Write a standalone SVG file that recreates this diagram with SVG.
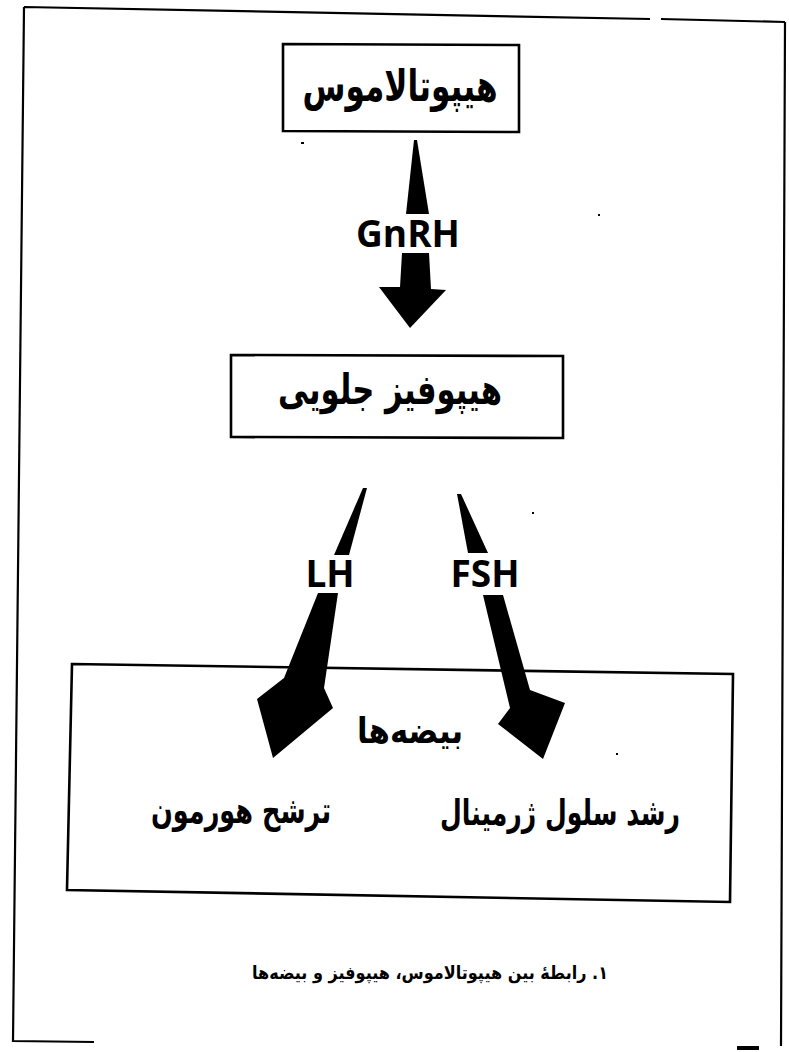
<svg xmlns="http://www.w3.org/2000/svg" width="789" height="1052" viewBox="0 0 789 1052">
  <style>
    .frame { fill: none; stroke: #000; stroke-width: 2.2; }
    .box { fill: none; stroke: #000; stroke-width: 2.6; stroke-linejoin: miter; }
    .fa { font-family: "DejaVu Sans", sans-serif; font-weight: bold; fill: #000; text-anchor: middle; direction: rtl; }
    .lbl { font-family: "Open Sans", "DejaVu Sans", sans-serif; font-weight: bold; fill: #000; text-anchor: middle; font-size: 37px; }
    .arrow { fill: #000; stroke: none; }
    .speck { fill: #000; }
  </style>

  <rect width="789" height="1052" fill="#fff"/>

  <!-- page frame around the figure -->
  <g id="page-frame">
    <path class="frame" d="M24,7 L650,19 M661,19 L785,22 M24,7 L13,1041 L94,1042 M785,22 L781,1046"/>
    <rect class="speck" x="737" y="1046" width="22" height="4"/>
    <rect class="speck" x="301" y="142" width="3" height="2"/>
    <rect class="speck" x="598" y="214" width="2" height="2"/>
    <rect class="speck" x="532" y="512" width="2" height="2"/>
    <rect class="speck" x="616" y="753" width="2" height="2"/>
  </g>

  <!-- hypothalamus -->
  <g id="hypothalamus">
    <polygon class="box" points="283,44 519,45 519,132 283,131"/>
    <text class="fa" x="400" y="101" font-size="44" textLength="195" lengthAdjust="spacingAndGlyphs">هیپوتالاموس</text>
  </g>

  <!-- anterior pituitary -->
  <g id="anterior-pituitary">
    <polygon class="box" points="231,355 563,356 563,438 231,437"/>
    <text class="fa" x="390" y="404" font-size="42" textLength="224" lengthAdjust="spacingAndGlyphs">هیپوفیز جلویی</text>
  </g>

  <!-- testes with the two effects -->
  <g id="testes">
    <polygon class="box" points="72,664 733,674 730,902 67,890"/>
    <text class="fa" x="410" y="743" font-size="36" textLength="106" lengthAdjust="spacingAndGlyphs">بیضه‌ها</text>
    <text class="fa" x="241" y="823" font-size="36" textLength="180" lengthAdjust="spacingAndGlyphs">ترشح هورمون</text>
    <text class="fa" x="560" y="825" font-size="36" textLength="240" lengthAdjust="spacingAndGlyphs">رشد سلول ژرمینال</text>
  </g>

  <!-- hormone arrows -->
  <g id="connectors">
    <!-- GnRH -->
    <polygon class="arrow" points="414,140 417,140 429,214 406,214"/>
    <text class="lbl" x="408" y="247">GnRH</text>
    <polygon class="arrow" points="402,253 429,253 431,289 446,290 410,328 379,287 400,287"/>
    <!-- LH -->
    <polygon class="arrow" points="363,488 367,488 349,555 334,555"/>
    <text class="lbl" x="330" y="587">LH</text>
    <polygon class="arrow" points="318,593 338,593 324,688 333,708 273,758 257,699 284,678"/>
    <!-- FSH -->
    <polygon class="arrow" points="457,494 461,494 488,553 468,553"/>
    <text class="lbl" x="485" y="587">FSH</text>
    <polygon class="arrow" points="483,595 503,595 530,690 565,703 543,759 498,724 510,708"/>
  </g>

  <!-- figure caption -->
  <g id="caption">
    <text class="fa" x="430" y="979" font-size="18" textLength="356" lengthAdjust="spacingAndGlyphs">۱. رابطهٔ بین هیپوتالاموس، هیپوفیز و بیضه‌ها</text>
  </g>
</svg>
